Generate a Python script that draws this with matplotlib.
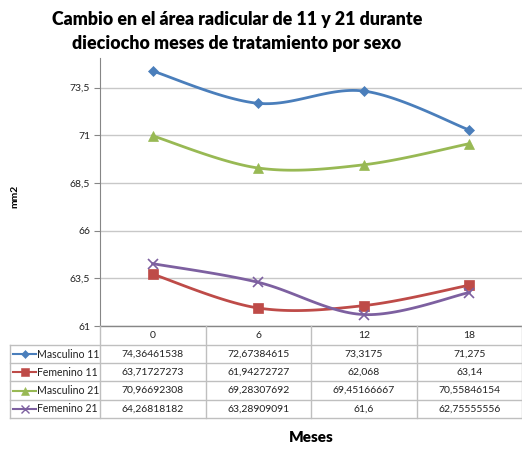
import matplotlib
matplotlib.use("Agg")
import matplotlib.pyplot as plt
from matplotlib.lines import Line2D
import numpy as np

plt.rcParams["font.family"] = ["Lato", "DejaVu Sans"]

# data ----------------------------------------------------------------------
meses = ["0", "6", "12", "18"]
series_names = ["Masculino 11", "Femenino 11", "Masculino 21", "Femenino 21"]
masc11 = [74.36461538, 72.67384615, 73.3175, 71.275]
fem11 = [63.71727273, 61.94272727, 62.068, 63.14]
masc21 = [70.96692308, 69.28307692, 69.45166667, 70.55846154]
fem21 = [64.26818182, 63.28909091, 61.6, 62.75555556]
yticks = [61, 63.5, 66, 68.5, 71, 73.5]

series = [masc11, fem11, masc21, fem21]
colors = ["#4A7EBB", "#BE4B48", "#98B954", "#7D60A0"]
markers = ["D", "s", "^", "x"]
msizes = [5, 7, 7, 7]

W, H = 522, 449
fig = plt.figure(figsize=(W / 100, H / 100), dpi=100)
fig.patch.set_facecolor("white")

# plot area in pixel terms
L, R, T, B = 100, 522, 58, 326
ax = fig.add_axes([L / W, (H - B) / H, (R - L) / W, (B - T) / H])
ax.set_xlim(-0.5, len(meses) - 0.5)
ax.set_ylim(61, 75.05)


def smooth(xs, ys, n=30):
    # excel-like bezier smoothing between points
    P = np.column_stack([xs, ys]).astype(float)
    ext = np.vstack([P[0], P, P[-1]])
    out = []
    for i in range(len(P) - 1):
        p0, p1, p2, p3 = ext[i], ext[i + 1], ext[i + 2], ext[i + 3]
        c1 = p1 + (p2 - p0) / 6
        c2 = p2 - (p3 - p1) / 6
        t = np.linspace(0, 1, n)[:, None]
        seg = (1 - t) ** 3 * p1 + 3 * (1 - t) ** 2 * t * c1 + 3 * (1 - t) * t ** 2 * c2 + t ** 3 * p2
        out.append(seg if i == 0 else seg[1:])
    s = np.vstack(out)
    return s[:, 0], s[:, 1]


xs = np.arange(len(meses))
for vals, c, m, ms in zip(series, colors, markers, msizes):
    sx, sy = smooth(xs, vals)
    ax.plot(sx, sy, color=c, lw=2, zorder=3)
    ax.plot(xs, vals, ls="none", marker=m, color=c, ms=ms,
            mew=1.2 if m == "x" else 0.5, zorder=4)

ax.set_yticks(yticks)
ax.set_yticklabels([f"{v:g}".replace(".", ",") for v in yticks], fontsize=7.5)
ax.yaxis.grid(True, color="#C8C8C8", lw=1)
ax.set_axisbelow(True)
ax.set_xticks([])
for s in ["top", "right", "bottom"]:
    ax.spines[s].set_visible(False)
ax.spines["left"].set_color("#868686")
ax.tick_params(axis="y", length=4, color="#868686", pad=3, labelcolor="#222222")

# data table underneath ------------------------------------------------------
tab = fig.add_axes([0, 0, 1, 1])
tab.set_xlim(0, W)
tab.set_ylim(H, 0)
tab.axis("off")
tab.patch.set_alpha(0)

GRID = "#BFBFBF"
col_w = (R - L) / len(meses)
row_top = B
head_h = 19
row_h = 18.2
rows_y = [row_top + head_h + i * row_h for i in range(len(series) + 1)]

# axis baseline
tab.plot([L, R], [B, B], color="#868686", lw=1)
# vertical lines
for i in range(len(meses) + 1):
    x = L + i * col_w
    tab.plot([x, x], [B, rows_y[-1]], color=GRID, lw=1)
tab.plot([10, 10], [rows_y[0], rows_y[-1]], color=GRID, lw=1)
# horizontal lines
for y in rows_y:
    tab.plot([10, R], [y, y], color=GRID, lw=1)

for i, m in enumerate(meses):
    tab.text(L + (i + 0.5) * col_w, B + head_h / 2, m, ha="center", va="center",
             fontsize=7.5, color="#222222")

for r, (name, vals, c, m, ms) in enumerate(zip(series_names, series, colors, markers, msizes)):
    yc = rows_y[r] + row_h / 2
    tab.add_line(Line2D([13, 36], [yc, yc], color=c, lw=1.5))
    tab.plot([24.5], [yc], marker=m, color=c, ms=ms * 0.8, mew=1 if m == "x" else 0.4)
    tab.text(37, yc, name, ha="left", va="center", fontsize=7.6, color="#222222")
    for i, v in enumerate(vals):
        tab.text(L + (i + 0.5) * col_w, yc, str(v).replace(".", ","),
                 ha="center", va="center", fontsize=7.5, color="#222222")

# titles ----------------------------------------------------------------------
fig.text(237 / W, 1 - 20 / H, "Cambio en el área radicular de 11 y 21 durante",
         ha="center", va="center", fontsize=12.8, fontweight="heavy")
fig.text(237 / W, 1 - 44 / H, "dieciocho meses de tratamiento por sexo",
         ha="center", va="center", fontsize=12.8, fontweight="heavy")
fig.text(15 / W, 1 - 196 / H, "mm2", rotation=90, ha="center", va="center",
         fontsize=7.5, fontweight="bold")
fig.text(311 / W, 1 - 437 / H, "Meses", ha="center", va="center",
         fontsize=11, fontweight="heavy")

fig.savefig("out.png", dpi=100, facecolor="white")
